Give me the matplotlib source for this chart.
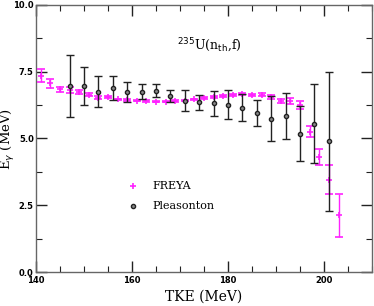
import matplotlib.pyplot as plt
from matplotlib.ticker import MultipleLocator

# FREYA calculation
freya_tke = [141, 143, 145, 147, 149, 151, 153, 155, 157, 159, 161, 163, 165, 167, 169, 171,
             173, 175, 177, 179, 181, 183, 185, 187, 189, 191, 193, 195, 197, 199, 201, 203]
freya_eg = [7.35, 7.06, 6.84, 6.81, 6.74, 6.64, 6.52, 6.54, 6.46, 6.44, 6.42, 6.40, 6.38, 6.38, 6.40, 6.42,
            6.46, 6.51, 6.55, 6.59, 6.62, 6.65, 6.62, 6.64, 6.56, 6.41, 6.40, 6.26, 5.25, 4.31, 3.46, 2.12]
freya_err = [0.25, 0.17, 0.10, 0.10, 0.07, 0.05, 0.06, 0.04, 0.03, 0.03, 0.03, 0.03, 0.03, 0.03, 0.03, 0.03,
             0.03, 0.03, 0.03, 0.03, 0.04, 0.04, 0.04, 0.05, 0.07, 0.07, 0.10, 0.16, 0.21, 0.30, 0.53, 0.80]

# Pleasonton data
pl_tke = [147, 150, 153, 156, 159, 162, 165, 168, 171, 174, 177, 180, 183, 186, 189, 192, 195, 198, 201]
pl_eg = [6.96, 6.96, 6.75, 6.90, 6.75, 6.75, 6.79, 6.58, 6.42, 6.36, 6.31, 6.27, 6.15, 5.95, 5.74, 5.84,
         5.18, 5.56, 4.89]
pl_err = [1.16, 0.70, 0.58, 0.45, 0.37, 0.28, 0.25, 0.23, 0.41, 0.28, 0.46, 0.53, 0.50, 0.50, 0.85, 0.86,
          1.04, 1.48, 2.60]

fig = plt.figure(figsize=(3.74, 3.06), dpi=100)
ax = fig.add_axes([0.096, 0.111, 0.899, 0.873])

ax.errorbar(freya_tke, freya_eg, yerr=freya_err, fmt='+', color='#ff22ff', ecolor='#ff22ff',
            markersize=4, mew=1.2, elinewidth=1.0, capsize=3, capthick=1.0, zorder=3)
ax.errorbar(pl_tke, pl_eg, yerr=pl_err, fmt='o', color='#222222', mfc='#888888', mec='#222222',
            markersize=3, mew=1.0, ecolor='#222222', elinewidth=1.0, capsize=3, capthick=1.0, zorder=4)

ax.set_xlim(140, 210)
ax.set_ylim(0, 10)
ax.xaxis.set_major_locator(MultipleLocator(20))
ax.xaxis.set_minor_locator(MultipleLocator(5))
ax.yaxis.set_major_locator(MultipleLocator(2.5))
ax.yaxis.set_minor_locator(MultipleLocator(1.25))
ax.yaxis.set_major_formatter(plt.FormatStrFormatter('%.1f'))
ax.tick_params(which='both', direction='in', top=True, right=True, color='#222222')
ax.tick_params(which='major', length=8, width=1.0, labelsize=6, pad=1.5)
ax.tick_params(axis='x', which='major', pad=3)
ax.tick_params(which='minor', length=4, width=0.8)
for lab in ax.get_xticklabels() + ax.get_yticklabels():
    lab.set_fontweight('bold')
for sp in ax.spines.values():
    sp.set_color('#666666')
    sp.set_linewidth(1.0)

ax.set_xlabel('TKE (MeV)', family='DejaVu Serif', fontsize=10)
ax.set_ylabel(r'E$_\gamma$ (MeV)', family='DejaVu Serif', fontsize=9.5)
ax.xaxis.set_label_coords(0.5, -0.065)
ax.yaxis.set_label_coords(-0.082, 0.5)
ax.xaxis.label.set_va('top')
ax.yaxis.label.set_va('center')

ax.text(176, 8.45, r'$^{235}$U(n$_{\rm th}$,f)', family='DejaVu Serif', fontsize=9,
        ha='center', va='center')

# legend drawn by hand
ax.plot([160.3], [3.23], '+', color='#ff22ff', markersize=4, mew=1.2)
ax.plot([160.3], [2.48], 'o', mfc='#888888', mec='#222222', markersize=3, mew=1.0)
ax.text(164.3, 3.23, 'FREYA', family='DejaVu Serif', fontsize=8, va='center')
ax.text(164.3, 2.48, 'Pleasonton', family='DejaVu Serif', fontsize=8, va='center')

plt.savefig('out.png', dpi=100)
